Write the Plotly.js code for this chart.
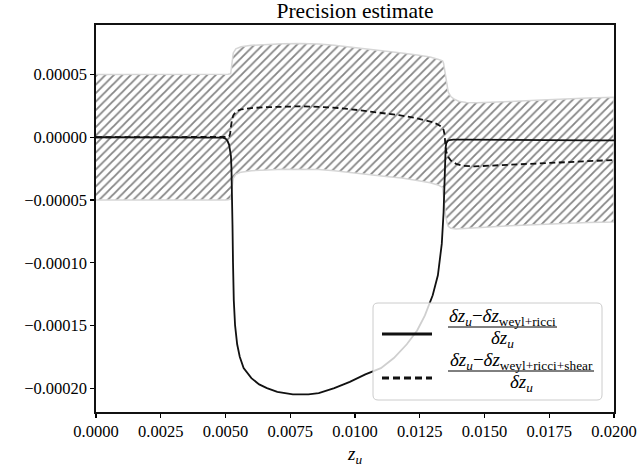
<!DOCTYPE html>
<html>
<head>
<meta charset="utf-8">
<script src="https://cdn.plot.ly/plotly-3.0.1.min.js"></script>
<style>html,body{margin:0;padding:0;background:#fff;}#chart{width:642px;height:472px;}</style>
</head>
<body>
<div id="chart"></div>
<script>
// ---- data ----
const solidX = [0, 0.001, 0.002, 0.003, 0.004, 0.0045, 0.0048, 0.0049, 0.0050, 0.00508, 0.00514, 0.00518, 0.00521, 0.00523, 0.00525, 0.00527, 0.00529, 0.00532, 0.00537, 0.00545, 0.00555, 0.0057, 0.0060, 0.0063, 0.0066, 0.0070, 0.0076, 0.0082, 0.0086, 0.0092, 0.0098, 0.0104, 0.0110, 0.0115, 0.0120, 0.0124, 0.0127, 0.0130, 0.0132, 0.01335, 0.01342, 0.01346, 0.01348, 0.0135, 0.01353, 0.01358, 0.01365, 0.0138, 0.0142, 0.0150, 0.0160, 0.0170, 0.0180, 0.0190, 0.0200];
const solidY = [0, 0, 0, 0, 0, 0, 0, -0.0000003, -0.000001, -0.000003, -0.000006, -0.00001, -0.000015, -0.000025, -0.00004, -0.00007, -0.0001, -0.00013, -0.00015, -0.000165, -0.000175, -0.000184, -0.000192, -0.000197, -0.0002, -0.000203, -0.000205, -0.000205, -0.000204, -0.0002, -0.000195, -0.000189, -0.000184, -0.000176, -0.000165, -0.000154, -0.000142, -0.000126, -0.00011, -0.000085, -0.00006, -0.00003, -0.000015, -0.000008, -0.0000045, -0.000003, -0.0000022, -0.0000018, -0.0000018, -0.000002, -0.0000021, -0.0000022, -0.0000023, -0.0000024, -0.0000025];

const dashX = [0, 0.001, 0.002, 0.003, 0.004, 0.005, 0.0051, 0.00515, 0.00518, 0.0052, 0.00522, 0.00525, 0.0053, 0.0054, 0.0056, 0.0060, 0.0066, 0.0072, 0.0079, 0.0086, 0.0094, 0.0102, 0.0110, 0.0117, 0.0123, 0.0127, 0.0130, 0.0132, 0.01335, 0.01342, 0.01346, 0.01349, 0.01352, 0.01358, 0.0137, 0.0139, 0.0142, 0.0146, 0.0152, 0.0158, 0.0165, 0.0172, 0.0178, 0.0185, 0.0192, 0.0200];
const dashY = [0, 0, 0, 0, 0, 0, 0.0000003, 0.000001, 0.000003, 0.000007, 0.00001, 0.000014, 0.0000175, 0.0000205, 0.0000222, 0.0000233, 0.000024, 0.0000245, 0.0000247, 0.0000243, 0.0000233, 0.0000215, 0.0000197, 0.0000176, 0.0000155, 0.0000138, 0.000012, 0.0000102, 0.0000082, 0.000006, 0.000002, -0.000006, -0.000011, -0.000015, -0.0000185, -0.0000212, -0.0000228, -0.0000232, -0.0000226, -0.0000221, -0.0000213, -0.0000205, -0.0000199, -0.0000193, -0.0000187, -0.0000181];

const bandUpX = [0, 0.002, 0.004, 0.005, 0.0051, 0.0052, 0.00523, 0.00526, 0.0053, 0.0054, 0.0056, 0.006, 0.0066, 0.0072, 0.0079, 0.0086, 0.0092, 0.0098, 0.0105, 0.0112, 0.0118, 0.0124, 0.0129, 0.0132, 0.01338, 0.01342, 0.01348, 0.01354, 0.0136, 0.0137, 0.0138, 0.0140, 0.0143, 0.0147, 0.0152, 0.016, 0.017, 0.018, 0.019, 0.02];
const bandUpY = [0.00005, 0.00005, 0.00005, 0.00005, 0.0000503, 0.0000507, 0.000055, 0.000062, 0.0000672, 0.0000705, 0.0000722, 0.0000733, 0.000074, 0.0000745, 0.0000747, 0.0000743, 0.0000733, 0.000072, 0.0000705, 0.0000688, 0.0000672, 0.0000655, 0.000064, 0.0000622, 0.000061, 0.000059, 0.00005, 0.000043, 0.000036, 0.0000325, 0.0000308, 0.0000287, 0.0000278, 0.0000275, 0.0000278, 0.0000285, 0.0000295, 0.0000305, 0.0000313, 0.0000319];

const bandLoX = [0, 0.002, 0.004, 0.005, 0.0051, 0.0052, 0.00523, 0.00526, 0.0053, 0.0054, 0.0056, 0.006, 0.0066, 0.0072, 0.0079, 0.0086, 0.0092, 0.0098, 0.0105, 0.0112, 0.0118, 0.0124, 0.0129, 0.0132, 0.01338, 0.01342, 0.01346, 0.0135, 0.01355, 0.0136, 0.0137, 0.0139, 0.0142, 0.0146, 0.0152, 0.016, 0.017, 0.018, 0.019, 0.02];
const bandLoY = [-0.00005, -0.00005, -0.00005, -0.00005, -0.0000498, -0.0000493, -0.000045, -0.000038, -0.0000327, -0.0000295, -0.0000278, -0.0000267, -0.000026, -0.0000255, -0.0000253, -0.0000257, -0.0000267, -0.000028, -0.0000295, -0.0000312, -0.0000324, -0.0000345, -0.0000362, -0.000038, -0.00004, -0.000045, -0.000055, -0.000063, -0.000068, -0.000071, -0.0000725, -0.0000732, -0.0000728, -0.0000722, -0.0000715, -0.0000705, -0.0000695, -0.0000687, -0.000068, -0.0000675];

const titleText = 'Precision estimate';
const xTitle = '<i>z<sub>u</sub></i>';
const legendNum1 = '<i>δz<sub>u</sub></i>−<i>δz</i><sub>weyl+ricci</sub>';
const legendNum2 = '<i>δz<sub>u</sub></i>−<i>δz</i><sub>weyl+ricci+shear</sub>';
const legendDen = '<i>δz<sub>u</sub></i>';

// ---- layout helpers (pixel -> paper) ----
const L = 96, R = 614, T = 25, B = 412;
const PW = R - L, PH = B - T;
const px = v => (v - L) / PW;
const py = v => (B - v) / PH;

const FONT = 'Liberation Serif, Times New Roman, serif';

const bandX = bandUpX.concat(bandLoX.slice().reverse());
const bandY = bandUpY.concat(bandLoY.slice().reverse());

const traces = [
  {
    x: bandX, y: bandY, type: 'scatter', mode: 'lines', fill: 'toself',
    fillcolor: 'white',
    fillpattern: {shape: '/', size: 6, solidity: 0.3, fgcolor: '#858585', bgcolor: 'white'},
    line: {color: '#d6d6d6', width: 1.5},
    hoverinfo: 'skip', showlegend: false
  },
  {
    x: solidX, y: solidY, type: 'scatter', mode: 'lines',
    line: {color: '#111', width: 1.8}, showlegend: false
  },
  {
    x: dashX, y: dashY, type: 'scatter', mode: 'lines',
    line: {color: '#111', width: 1.8, dash: '6px,3.5px'}, showlegend: false
  }
];

// legend box with rounded corners
function roundRect(x0, y0, x1, y1, r) {
  const rx = r / PW, ry = r / PH;
  const a = px(x0), b = px(x1), top = py(y0), bot = py(y1);
  return `M ${a + rx} ${top} L ${b - rx} ${top} Q ${b} ${top} ${b} ${top - ry} L ${b} ${bot + ry} Q ${b} ${bot} ${b - rx} ${bot} L ${a + rx} ${bot} Q ${a} ${bot} ${a} ${bot + ry} L ${a} ${top - ry} Q ${a} ${top} ${a + rx} ${top} Z`;
}

const shapes = [
  {type: 'path', xref: 'paper', yref: 'paper', path: roundRect(373, 303, 602, 400, 5),
   fillcolor: 'rgba(255,255,255,0.8)', line: {color: '#cccccc', width: 1}, layer: 'above'},
  {type: 'line', xref: 'paper', yref: 'paper', x0: px(382), x1: px(432), y0: py(334), y1: py(334),
   line: {color: '#111', width: 3}, layer: 'above'},
  {type: 'line', xref: 'paper', yref: 'paper', x0: px(382), x1: px(432), y0: py(378), y1: py(378),
   line: {color: '#111', width: 3, dash: '7px,4px'}, layer: 'above'},
  {type: 'line', xref: 'paper', yref: 'paper', x0: px(448), x1: px(557), y0: py(327), y1: py(327),
   line: {color: '#000', width: 1}, layer: 'above'},
  {type: 'line', xref: 'paper', yref: 'paper', x0: px(448), x1: px(594), y0: py(371), y1: py(371),
   line: {color: '#000', width: 1}, layer: 'above'}
];

const annFont = {family: FONT, size: 19, color: '#000'};
const annotations = [
  {xref: 'paper', yref: 'paper', x: px(502.5), y: py(317), text: legendNum1, showarrow: false, xanchor: 'center', yanchor: 'middle', font: annFont},
  {xref: 'paper', yref: 'paper', x: px(502.5), y: py(339), text: legendDen, showarrow: false, xanchor: 'center', yanchor: 'middle', font: annFont},
  {xref: 'paper', yref: 'paper', x: px(521), y: py(361), text: legendNum2, showarrow: false, xanchor: 'center', yanchor: 'middle', font: annFont},
  {xref: 'paper', yref: 'paper', x: px(521), y: py(383), text: legendDen, showarrow: false, xanchor: 'center', yanchor: 'middle', font: annFont}
];

const layout = {
  width: 642, height: 472,
  margin: {l: L, r: 642 - R, t: T, b: 472 - B, pad: 0},
  paper_bgcolor: 'white', plot_bgcolor: 'white',
  font: {family: FONT, size: 16.5, color: '#000'},
  title: {text: titleText, font: {family: FONT, size: 21.5, color: '#000'},
          x: 0.5, xref: 'paper', xanchor: 'center', y: 1 - 10 / 472, yref: 'container', yanchor: 'middle'},
  showlegend: false,
  xaxis: {
    range: [0, 0.02], tick0: 0, dtick: 0.0025, tickformat: '.4f',
    ticks: 'outside', ticklen: 4, tickwidth: 1.2, tickcolor: '#000',
    showline: true, mirror: true, linecolor: '#111', linewidth: 1.6,
    showgrid: false, zeroline: false,
    tickfont: {family: FONT, size: 16.5, color: '#000'},
    title: {text: xTitle, font: {family: FONT, size: 19, color: '#000'}, standoff: 6}
  },
  yaxis: {
    range: [-0.000219, 0.0000895], tick0: 0, dtick: 0.00005, tickformat: '.5f',
    ticks: 'outside', ticklen: 4, tickwidth: 1.2, tickcolor: '#000',
    showline: true, mirror: true, linecolor: '#111', linewidth: 1.6,
    showgrid: false, zeroline: false,
    tickfont: {family: FONT, size: 16.5, color: '#000'}
  },
  shapes: shapes,
  annotations: annotations
};

Plotly.newPlot('chart', traces, layout, {displayModeBar: false, staticPlot: true});
</script>
</body>
</html>
